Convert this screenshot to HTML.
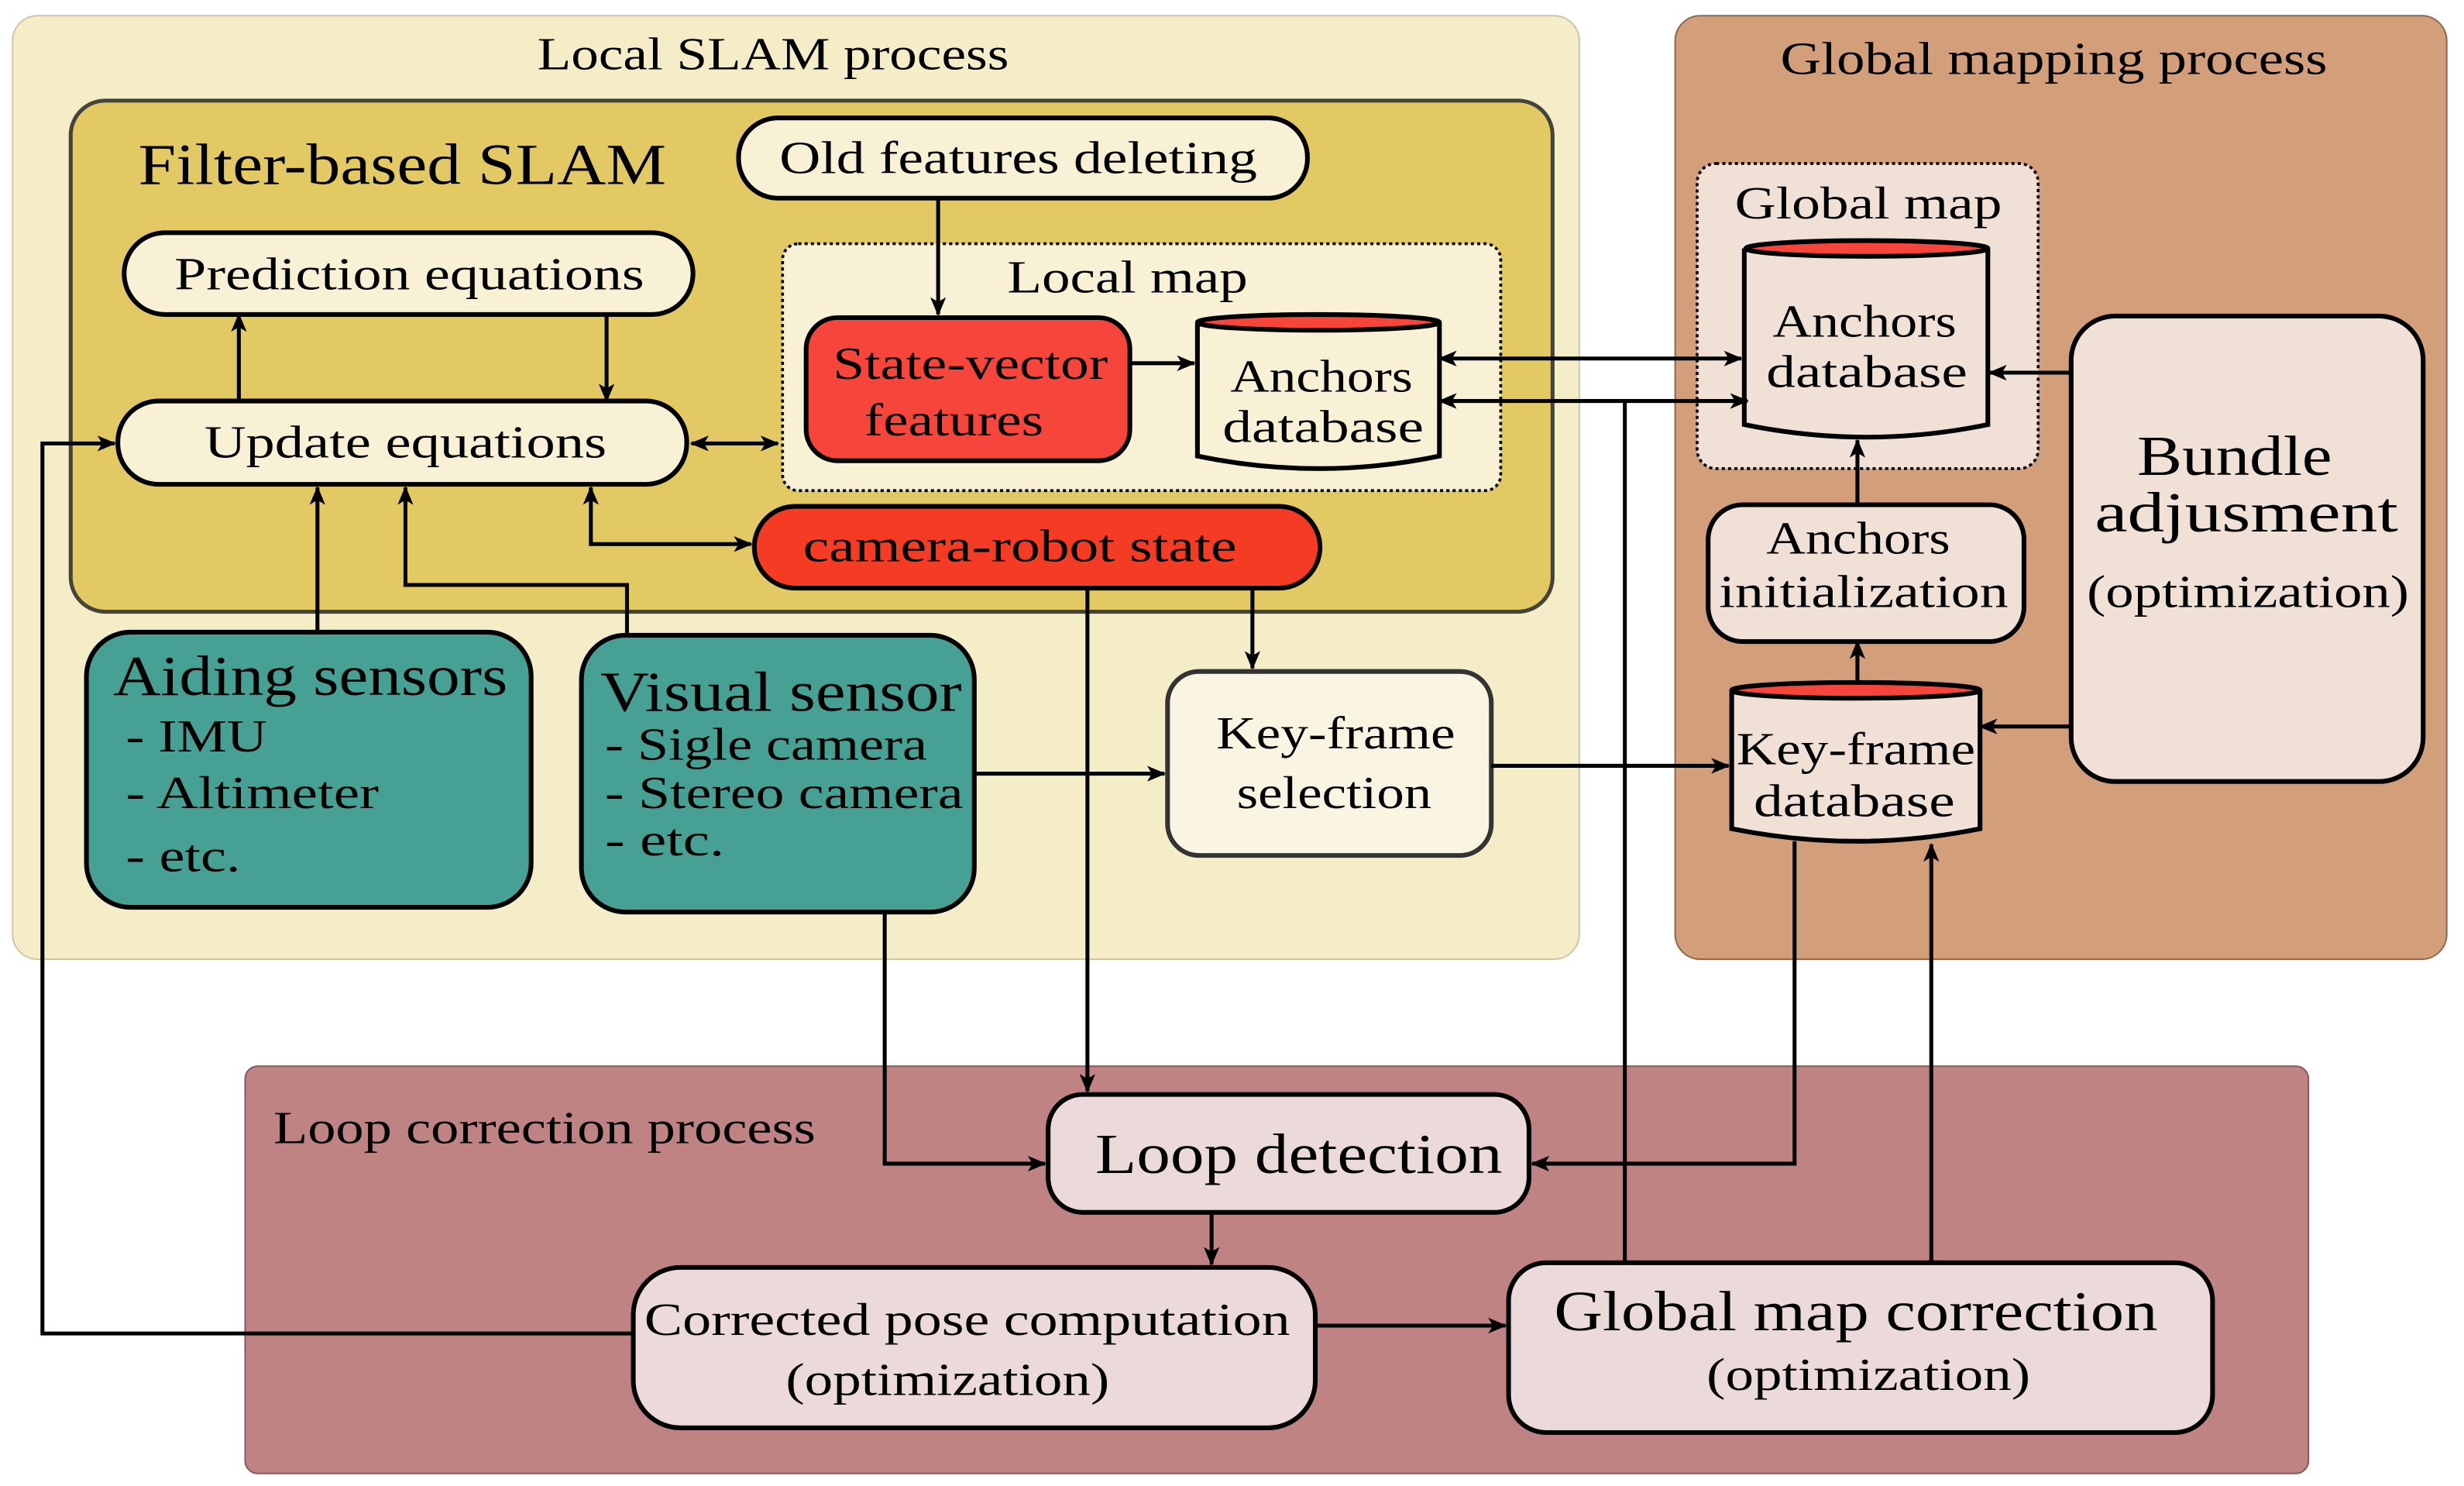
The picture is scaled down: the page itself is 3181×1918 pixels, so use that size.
<!DOCTYPE html>
<html><head><meta charset="utf-8"><style>html,body{margin:0;padding:0;background:#fff}svg{display:block}text{font-family:"Liberation Serif",serif;fill:#000}</style></head><body>
<svg width="3181" height="1918" viewBox="0 0 1568 945" preserveAspectRatio="none" xmlns="http://www.w3.org/2000/svg">
<defs>
<marker id="a" viewBox="0 0 12 10" refX="11" refY="5" markerWidth="12" markerHeight="10" markerUnits="userSpaceOnUse" orient="auto-start-reverse"><path d="M0,0 L12,5 L0,10 L3,5 Z" fill="#000"/></marker>
</defs>
<rect x="8" y="10" width="997" height="600" rx="16" fill="#f5ecc8" stroke="#cfc6a6" stroke-width="1"/>
<rect x="1066" y="10" width="491" height="600" rx="16" fill="#d39e7a" stroke="#8a6a50" stroke-width="1"/>
<rect x="156" y="678" width="1313" height="259" rx="8" fill="#c08383" stroke="#8a5a5a" stroke-width="1"/>
<rect x="45" y="64" width="943" height="325" rx="22" fill="#e2c964" stroke="#45443a" stroke-width="2.5"/>
<rect x="498" y="155" width="457" height="157" rx="10" fill="#f8f1d6" stroke="#000" stroke-width="1.8" stroke-dasharray="2,2"/>
<rect x="1080" y="104" width="217" height="194" rx="12" fill="#f0e0d6" stroke="#000" stroke-width="1.8" stroke-dasharray="2,2"/>
<g stroke="#000" stroke-width="3">
<rect x="470" y="75" width="362" height="51" rx="25" fill="#f8f1d6"/>
<rect x="79" y="148" width="362" height="52" rx="26" fill="#f8f1d6"/>
<rect x="75" y="255" width="362" height="53" rx="26" fill="#f8f1d6"/>
<rect x="513" y="202" width="206" height="91" rx="20" fill="#f6463c"/>
<rect x="480" y="322" width="360" height="52" rx="26" fill="#f43c24"/>
<rect x="55" y="402" width="283" height="175" rx="28" fill="#46a094"/>
<rect x="370" y="404" width="250" height="176" rx="28" fill="#46a094"/>
<rect x="743" y="427" width="206" height="117" rx="20" fill="#faf5e3" stroke="#333"/>
<rect x="1087" y="321" width="201" height="87" rx="22" fill="#f0e0d6"/>
<rect x="1318" y="201" width="224" height="296" rx="28" fill="#f0e0d6"/>
<rect x="667" y="696" width="306" height="75" rx="22" fill="#ecdada"/>
<rect x="403" y="806" width="434" height="102" rx="30" fill="#ecdada"/>
<rect x="960" y="803" width="448" height="108" rx="24" fill="#ecdada"/>
</g>
<g stroke="#000" stroke-width="3">
<path d="M762,205 V290 Q839,306 916,290 V205" fill="#f8f1d6"/>
<ellipse cx="839" cy="205" rx="77" ry="5" fill="#f6463c"/>
<path d="M1110,158 V270 Q1188,286 1265,270 V158" fill="#f0e0d6"/>
<ellipse cx="1188" cy="158" rx="77" ry="5" fill="#f6463c"/>
<path d="M1102,439 V527 Q1181,543 1260,527 V439" fill="#f0e0d6"/>
<ellipse cx="1181" cy="439" rx="79" ry="5" fill="#f6463c"/>
</g>
<g font-size="29" lengthAdjust="spacingAndGlyphs">
<text x="342" y="44" textLength="300" lengthAdjust="spacingAndGlyphs">Local SLAM process</text>
<text x="1133" y="47" textLength="348" lengthAdjust="spacingAndGlyphs">Global mapping process</text>
<text x="174" y="727" textLength="345" lengthAdjust="spacingAndGlyphs">Loop correction process</text>
<text x="88" y="117" font-size="37" textLength="336" lengthAdjust="spacingAndGlyphs">Filter-based SLAM</text>
<text x="641" y="186" textLength="153" lengthAdjust="spacingAndGlyphs">Local map</text>
<text x="1104" y="139" textLength="170" lengthAdjust="spacingAndGlyphs">Global map</text>
<text x="496" y="110" textLength="304" lengthAdjust="spacingAndGlyphs">Old features deleting</text>
<text x="111" y="184" textLength="299" lengthAdjust="spacingAndGlyphs">Prediction equations</text>
<text x="130" y="291" textLength="256" lengthAdjust="spacingAndGlyphs">Update equations</text>
<text x="530" y="241" textLength="175" lengthAdjust="spacingAndGlyphs">State-vector</text>
<text x="550" y="277" textLength="114" lengthAdjust="spacingAndGlyphs">features</text>
<text x="783" y="249" textLength="116" lengthAdjust="spacingAndGlyphs">Anchors</text>
<text x="778" y="281" textLength="128" lengthAdjust="spacingAndGlyphs">database</text>
<text x="511" y="357" textLength="276" lengthAdjust="spacingAndGlyphs">camera-robot state</text>
<text x="774" y="476" textLength="152" lengthAdjust="spacingAndGlyphs">Key-frame</text>
<text x="787" y="514" textLength="124" lengthAdjust="spacingAndGlyphs">selection</text>
<text x="1128" y="214" textLength="117" lengthAdjust="spacingAndGlyphs">Anchors</text>
<text x="1124" y="246" textLength="128" lengthAdjust="spacingAndGlyphs">database</text>
<text x="1124" y="352" textLength="117" lengthAdjust="spacingAndGlyphs">Anchors</text>
<text x="1094" y="386" textLength="184" lengthAdjust="spacingAndGlyphs">initialization</text>
<text x="1105" y="486" textLength="152" lengthAdjust="spacingAndGlyphs">Key-frame</text>
<text x="1116" y="519" textLength="128" lengthAdjust="spacingAndGlyphs">database</text>
<text x="1360" y="302" font-size="36" textLength="124" lengthAdjust="spacingAndGlyphs">Bundle</text>
<text x="1333" y="338" font-size="36" textLength="193" lengthAdjust="spacingAndGlyphs">adjusment</text>
<text x="1328" y="386" textLength="205" lengthAdjust="spacingAndGlyphs">(optimization)</text>
<text x="697" y="746" font-size="36" textLength="259" lengthAdjust="spacingAndGlyphs">Loop detection</text>
<text x="410" y="849" textLength="411" lengthAdjust="spacingAndGlyphs">Corrected pose computation</text>
<text x="500" y="887" textLength="206" lengthAdjust="spacingAndGlyphs">(optimization)</text>
<text x="989" y="846" font-size="36" textLength="384" lengthAdjust="spacingAndGlyphs">Global map correction</text>
<text x="1086" y="884" textLength="206" lengthAdjust="spacingAndGlyphs">(optimization)</text>
<text x="72" y="442" font-size="36" textLength="251" lengthAdjust="spacingAndGlyphs">Aiding sensors</text>
<text x="80" y="478" textLength="90" lengthAdjust="spacingAndGlyphs">- IMU</text>
<text x="80" y="514" textLength="161" lengthAdjust="spacingAndGlyphs">- Altimeter</text>
<text x="80" y="554" textLength="73" lengthAdjust="spacingAndGlyphs">- etc.</text>
<text x="382" y="452" font-size="36" textLength="230" lengthAdjust="spacingAndGlyphs">Visual sensor</text>
<text x="385" y="483" textLength="205" lengthAdjust="spacingAndGlyphs">- Sigle camera</text>
<text x="385" y="514" textLength="228" lengthAdjust="spacingAndGlyphs">- Stereo camera</text>
<text x="385" y="544" textLength="76" lengthAdjust="spacingAndGlyphs">- etc.</text>
</g>
<g stroke="#000" stroke-width="2.5" fill="none" marker-end="url(#a)">
<path d="M597,126 V200"/>
<path d="M152,255 V200"/>
<path d="M386,200 V255"/>
<path d="M440,282 H495" marker-start="url(#a)"/>
<path d="M719,231 H760"/>
<path d="M916,228 H1108" marker-start="url(#a)"/>
<path d="M916,255 H1112" marker-start="url(#a)"/>
<path d="M376,310 V346 H478" marker-start="url(#a)"/>
<path d="M202,402 V310"/>
<path d="M399,404 V372 H258 V310"/>
<path d="M797,374 V425"/>
<path d="M692,374 V694"/>
<path d="M620,492 H741"/>
<path d="M949,487 H1100"/>
<path d="M1318,237 H1266"/>
<path d="M1318,462 H1260"/>
<path d="M1182,434 V408"/>
<path d="M1182,321 V280"/>
<path d="M1142,535 V740 H975"/>
<path d="M563,580 V740 H665"/>
<path d="M771,771 V804"/>
<path d="M837,843 H958"/>
<path d="M1229,803 V537"/>
<path d="M403,848 H27 V282 H73"/>
</g>
<path d="M1034,803 V255" stroke="#000" stroke-width="2.5" fill="none"/>
</svg>
</body></html>
